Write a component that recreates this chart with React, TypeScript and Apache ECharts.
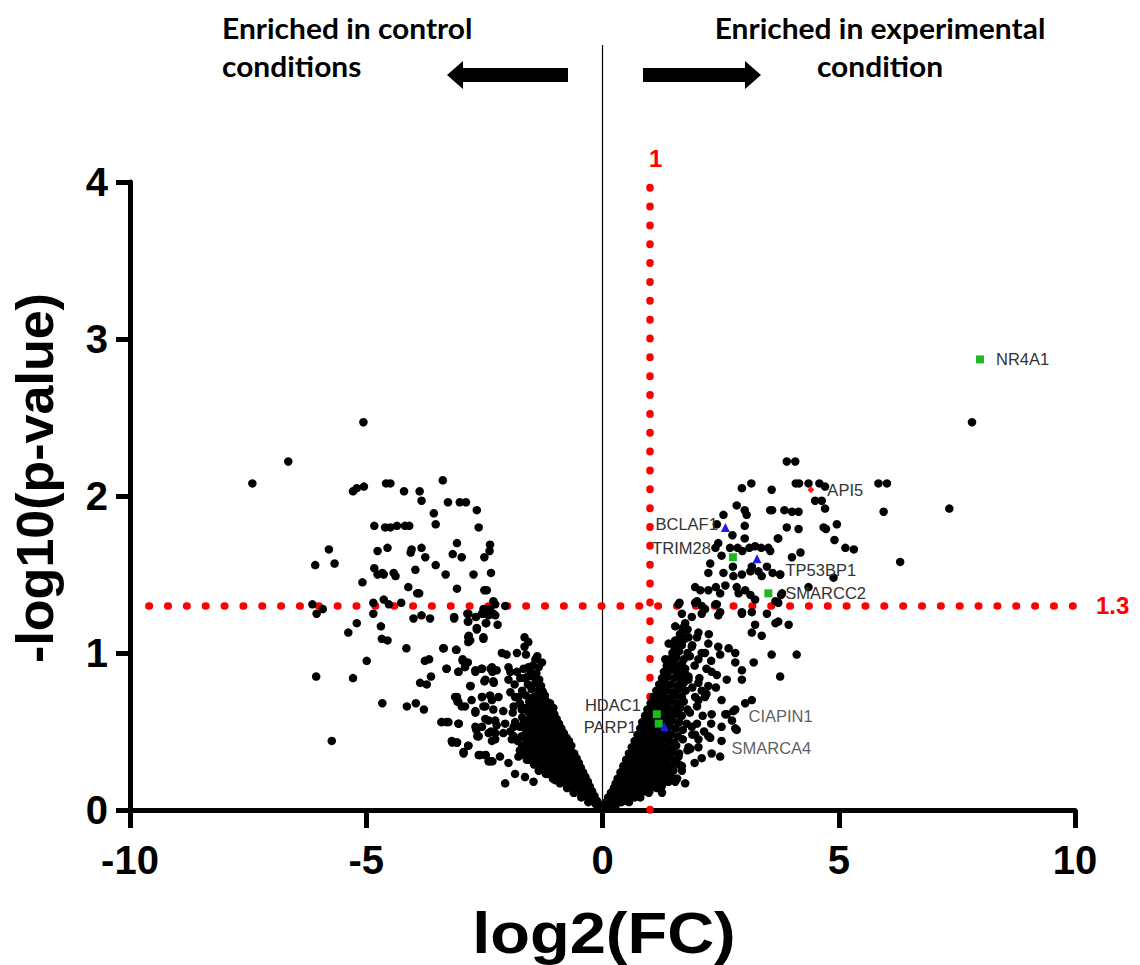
import { useEffect, useRef } from "react";
import * as echarts from "echarts";

// ---------- data (log2 fold change, -log10 p-value) ----------
const xAxisName = "log2(FC)";
const yAxisName = "-log10(p-value)";
const fcCutoff = 1;
const pCutoff = 1.3;
const pLineStart = -9.6;

const leftOuter: number[][] = [
  [-7.41, 2.08], [-6.65, 2.22], [-5.06, 2.47],
  [-4.58, 2.08], [-4.49, 2.08], [-5.28, 2.03], [-5.2, 2.05], [-5.05, 2.06],
  [-4.2, 2.03], [-3.87, 2.03], [-3.83, 1.97], [-3.38, 2.1], [-3.57, 1.89], [-3.27, 1.96],
  [-3.02, 1.96], [-2.89, 1.96], [-2.66, 1.91], [-2.62, 1.8],
  [-4.83, 1.81], [-4.6, 1.8], [-4.49, 1.8], [-4.35, 1.81], [-4.18, 1.81], [-4.09, 1.81], [-3.53, 1.82],
  [-5.79, 1.66], [-6.08, 1.56], [-5.67, 1.57], [-4.76, 1.65], [-4.55, 1.67], [-4.04, 1.66],
  [-4.06, 1.64], [-3.83, 1.67], [-3.75, 1.61], [-3.53, 1.56], [-3.08, 1.7], [-3.17, 1.63],
  [-2.98, 1.61], [-2.38, 1.69], [-2.39, 1.65], [-2.5, 1.61],
  [-4.83, 1.54], [-4.76, 1.5], [-4.66, 1.51], [-4.63, 1.5], [-4.42, 1.51], [-4.38, 1.49],
  [-3.96, 1.53], [-3.32, 1.5], [-2.73, 1.5], [-2.36, 1.51],
  [-5.08, 1.45], [-4.11, 1.42], [-3.92, 1.38], [-3.88, 1.38], [-3.08, 1.41], [-2.5, 1.4], [-2.45, 1.4],
  [-6.14, 1.31], [-4.85, 1.32], [-4.63, 1.34], [-4.52, 1.31], [-4.26, 1.32], [-2.52, 1.28], [-2.31, 1.33],
  [-6.05, 1.25], [-5.92, 1.28], [-4.85, 1.25], [-5.2, 1.19], [-5.38, 1.13], [-4.69, 1.17],
  [-4.67, 1.09], [-4.55, 1.08], [-4.0, 1.22], [-3.83, 1.24], [-3.65, 1.22], [-3.14, 1.22],
  [-2.86, 1.25], [-2.85, 1.2], [-2.68, 1.23], [-2.66, 1.16], [-2.52, 1.25], [-2.47, 1.19],
  [-2.27, 1.24], [-2.83, 1.11], [-2.84, 1.07], [-2.52, 1.1], [-4.15, 1.03], [-3.36, 1.03],
  [-3.09, 1.02], [-4.99, 0.95], [-3.76, 0.95], [-3.67, 0.96], [-2.96, 0.95], [-2.85, 0.94],
  [-2.91, 0.91], [-3.3, 0.9], [-3.05, 0.88], [-2.69, 0.88], [-2.56, 0.9], [-2.37, 0.9],
  [-2.33, 0.88], [-6.06, 0.85], [-5.28, 0.84], [-3.86, 0.81], [-3.72, 0.8], [-3.63, 0.85],
  [-2.5, 0.82], [-2.3, 0.81], [-2.79, 0.79], [-3.08, 0.72], [-3.07, 0.69], [-2.91, 0.66],
  [-2.55, 0.72], [-2.48, 0.66], [-2.34, 0.7], [-4.66, 0.68], [-4.14, 0.66], [-3.95, 0.68],
  [-3.78, 0.64], [-2.69, 0.62], [-2.48, 0.58], [-2.27, 0.57], [-3.41, 0.56], [-3.3, 0.56],
  [-3.04, 0.55], [-2.67, 0.51], [-2.55, 0.53], [-2.65, 0.47], [-2.36, 0.5], [-2.34, 0.44],
  [-2.27, 0.49], [-5.73, 0.44], [-3.18, 0.43], [-3.08, 0.43], [-2.84, 0.41], [-2.94, 0.36],
  [-2.59, 0.35], [-2.47, 0.35], [-2.41, 0.31], [-2.33, 0.31],
];

const leftInner: number[][] = [
  [-3.14, 1.23], [-2.84, 1.25], [-2.84, 1.2], [-2.68, 1.23], [-2.55, 1.25], [-2.48, 1.28],
  [-2.38, 1.28], [-2.41, 1.24], [-2.31, 1.25], [-2.66, 1.15], [-2.46, 1.19], [-2.22, 1.18],
  [-2.27, 1.31], [-2.06, 1.3], [-2.84, 1.1], [-2.8, 1.08], [-2.52, 1.09], [-3.37, 1.03],
  [-3.1, 1.02], [-1.65, 1.1], [-1.57, 1.07], [-1.65, 1.04], [-2.13, 1.0], [-2.03, 0.99],
  [-1.81, 1.0], [-1.62, 0.99], [-1.38, 0.98], [-2.96, 0.96], [-2.9, 0.94], [-3.3, 0.9],
  [-3.05, 0.88], [-2.69, 0.89], [-2.55, 0.9], [-2.34, 0.91], [-2.24, 0.89], [-1.99, 0.91],
  [-1.95, 0.88], [-1.81, 0.88], [-1.67, 0.9], [-1.57, 0.91], [-1.35, 0.91], [-1.28, 0.94],
  [-1.42, 0.96], [-2.48, 0.83], [-2.31, 0.82], [-1.99, 0.83], [-1.86, 0.8], [-1.74, 0.84],
  [-1.58, 0.85], [-2.8, 0.79], [-3.12, 0.72], [-3.05, 0.69], [-2.77, 0.7], [-2.55, 0.72],
  [-2.38, 0.73], [-2.2, 0.72], [-1.95, 0.75], [-1.78, 0.72], [-1.5, 0.71], [-1.28, 0.76],
  [-1.21, 0.7], [-2.98, 0.66], [-2.69, 0.63], [-2.52, 0.66], [-2.31, 0.64], [-2.1, 0.63],
  [-1.88, 0.66], [-1.71, 0.64], [-1.42, 0.64], [-1.21, 0.64], [-1.04, 0.65], [-3.4, 0.56],
  [-3.26, 0.56], [-3.05, 0.55], [-2.69, 0.53], [-2.41, 0.57], [-2.24, 0.54], [-2.06, 0.55],
  [-1.88, 0.53], [-1.67, 0.55], [-1.5, 0.56], [-1.32, 0.55], [-1.14, 0.57], [-1.0, 0.58],
  [-3.19, 0.44], [-3.08, 0.43], [-2.84, 0.41], [-2.62, 0.47], [-2.41, 0.49], [-2.27, 0.45],
  [-2.1, 0.49], [-1.92, 0.45], [-1.71, 0.47], [-1.53, 0.49], [-1.35, 0.47], [-1.18, 0.49],
  [-1.0, 0.48], [-0.83, 0.49], [-2.94, 0.37], [-2.62, 0.35], [-2.48, 0.35], [-2.38, 0.31],
  [-2.17, 0.34], [-1.99, 0.3], [-1.78, 0.34], [-1.6, 0.32], [-1.42, 0.34], [-1.21, 0.35],
  [-1.04, 0.34], [-0.86, 0.36], [-0.68, 0.37], [-2.06, 0.17], [-1.85, 0.23], [-1.64, 0.21],
  [-1.46, 0.18], [-1.35, 0.25], [-1.14, 0.23], [-1.0, 0.19], [-0.83, 0.23], [-0.72, 0.18],
  [-0.58, 0.25], [-0.51, 0.21], [-0.44, 0.15], [-0.61, 0.11], [-0.37, 0.11], [-0.26, 0.06],
  [-0.15, 0.04], [-0.08, 0.02],
];

const leftCore: number[][] = [
  [-0.1, 0.02], [-0.05, 0.01], [-0.3, 0.05], [-0.22, 0.06], [-0.15, 0.05], [-0.08, 0.04],
  [-0.45, 0.08], [-0.36, 0.09], [-0.28, 0.08], [-0.2, 0.07], [-0.12, 0.06],
  [-0.6, 0.11], [-0.5, 0.12], [-0.41, 0.11], [-0.33, 0.1], [-0.24, 0.11], [-0.17, 0.09],
  [-0.75, 0.14], [-0.66, 0.15], [-0.56, 0.13], [-0.47, 0.14], [-0.38, 0.15], [-0.3, 0.13], [-0.22, 0.12],
  [-0.9, 0.17], [-0.8, 0.18], [-0.7, 0.16], [-0.61, 0.17], [-0.52, 0.18], [-0.43, 0.17], [-0.35, 0.16], [-0.27, 0.15],
  [-1.05, 0.2], [-0.95, 0.21], [-0.85, 0.19], [-0.76, 0.2], [-0.66, 0.21], [-0.57, 0.2], [-0.48, 0.19], [-0.4, 0.2], [-0.31, 0.18],
  [-1.2, 0.23], [-1.1, 0.24], [-1.0, 0.22], [-0.91, 0.23], [-0.81, 0.24], [-0.72, 0.23], [-0.62, 0.22], [-0.53, 0.24], [-0.44, 0.23], [-0.36, 0.21],
  [-1.3, 0.26], [-1.2, 0.27], [-1.1, 0.26], [-1.0, 0.25], [-0.9, 0.27], [-0.8, 0.26], [-0.7, 0.27], [-0.6, 0.26], [-0.5, 0.25], [-0.41, 0.24],
  [-1.45, 0.29], [-1.33, 0.3], [-1.22, 0.29], [-1.12, 0.28], [-1.02, 0.3], [-0.92, 0.29], [-0.83, 0.3], [-0.73, 0.29], [-0.63, 0.28], [-0.54, 0.29], [-0.46, 0.27],
  [-1.55, 0.32], [-1.4, 0.33], [-1.28, 0.32], [-1.17, 0.31], [-1.07, 0.33], [-0.97, 0.32], [-0.87, 0.33], [-0.77, 0.32], [-0.67, 0.31], [-0.58, 0.32], [-0.5, 0.3],
  [-1.65, 0.35], [-1.5, 0.36], [-1.36, 0.35], [-1.25, 0.34], [-1.14, 0.36], [-1.03, 0.35], [-0.93, 0.36], [-0.82, 0.35], [-0.72, 0.34], [-0.62, 0.35], [-0.55, 0.33],
  [-1.75, 0.38], [-1.58, 0.39], [-1.44, 0.38], [-1.32, 0.37], [-1.2, 0.39], [-1.09, 0.38], [-0.98, 0.39], [-0.88, 0.38], [-0.78, 0.37], [-0.68, 0.38], [-0.6, 0.36],
  [-1.7, 0.41], [-1.55, 0.42], [-1.4, 0.41], [-1.27, 0.4], [-1.15, 0.42], [-1.04, 0.41], [-0.94, 0.42], [-0.84, 0.41], [-0.74, 0.4], [-0.66, 0.41],
  [-1.8, 0.44], [-1.62, 0.45], [-1.47, 0.44], [-1.33, 0.43], [-1.21, 0.45], [-1.1, 0.44], [-0.99, 0.45], [-0.89, 0.44], [-0.79, 0.43], [-0.71, 0.44],
  [-1.88, 0.47], [-1.55, 0.48], [-1.4, 0.47], [-1.27, 0.46], [-1.15, 0.48], [-1.05, 0.47], [-0.95, 0.48], [-0.85, 0.47], [-0.76, 0.46],
  [-1.95, 0.5], [-1.62, 0.51], [-1.47, 0.5], [-1.33, 0.49], [-1.21, 0.51], [-1.1, 0.5], [-1.0, 0.51], [-0.9, 0.5], [-0.82, 0.49],
  [-1.75, 0.53], [-1.55, 0.54], [-1.4, 0.53], [-1.27, 0.52], [-1.16, 0.54], [-1.05, 0.53], [-0.95, 0.54], [-0.87, 0.52],
  [-1.85, 0.56], [-1.62, 0.57], [-1.46, 0.56], [-1.33, 0.55], [-1.2, 0.57], [-1.1, 0.56], [-1.0, 0.57], [-0.92, 0.55],
  [-1.7, 0.59], [-1.52, 0.6], [-1.38, 0.59], [-1.25, 0.58], [-1.15, 0.6], [-1.05, 0.59], [-0.97, 0.58],
  [-1.9, 0.62], [-1.58, 0.63], [-1.44, 0.62], [-1.3, 0.61], [-1.19, 0.63], [-1.09, 0.62], [-1.02, 0.61],
  [-1.65, 0.65], [-1.5, 0.66], [-1.35, 0.65], [-1.24, 0.64], [-1.14, 0.66], [-1.07, 0.65],
  [-1.75, 0.68], [-1.55, 0.69], [-1.4, 0.68], [-1.28, 0.67], [-1.18, 0.69], [-1.11, 0.68],
  [-1.85, 0.72], [-1.62, 0.73], [-1.45, 0.72], [-1.32, 0.71], [-1.22, 0.73],
  [-1.7, 0.76], [-1.5, 0.77], [-1.36, 0.76], [-1.26, 0.75],
  [-1.58, 0.8], [-1.42, 0.81], [-1.3, 0.79], [-1.65, 0.84], [-1.47, 0.85], [-1.34, 0.83],
  [-1.52, 0.88], [-1.4, 0.87], [-1.48, 0.92],
];

const rightOuter: number[][] = [
  [3.9, 2.22], [4.08, 2.22], [3.15, 2.08], [2.95, 2.05], [3.58, 2.04],
  [2.84, 1.94], [3.01, 1.91], [3.05, 1.88], [3.55, 1.91], [3.59, 1.91], [3.85, 1.91], [2.56, 1.88],
  [3.01, 1.81], [2.75, 1.75], [3.01, 1.73], [3.71, 1.73], [3.9, 1.8], [2.42, 1.82],
  [2.45, 1.7], [2.39, 1.67], [2.7, 1.67], [2.86, 1.67], [2.96, 1.65], [3.11, 1.67], [3.23, 1.68],
  [3.36, 1.67], [3.51, 1.67], [3.55, 1.65], [4.01, 1.61], [2.28, 1.57], [2.24, 1.51], [2.52, 1.62],
  [2.56, 1.51], [2.76, 1.55], [2.77, 1.49], [2.95, 1.5], [3.16, 1.55], [3.13, 1.52], [3.48, 1.55],
  [3.6, 1.51], [3.76, 1.5], [3.3, 1.52], [3.37, 1.49],
  [1.96, 1.42], [2.07, 1.4], [2.24, 1.4], [2.4, 1.42], [2.6, 1.43], [2.49, 1.38], [2.84, 1.42],
  [2.88, 1.38], [3.02, 1.4], [3.13, 1.37], [3.23, 1.34], [3.8, 1.38], [3.66, 1.33],
  [1.63, 1.32], [1.68, 1.25], [2.0, 1.33], [2.1, 1.3], [2.39, 1.31], [2.49, 1.26], [2.95, 1.26], [3.16, 1.26],
  [4.09, 2.08], [4.16, 2.08], [4.36, 2.08], [4.59, 2.08], [4.71, 2.06], [5.84, 2.08], [6.02, 2.08],
  [4.5, 1.97], [4.64, 1.97], [4.01, 1.9], [4.15, 1.9], [4.71, 1.92], [5.95, 1.9], [7.34, 1.92],
  [4.15, 1.79], [4.68, 1.8], [4.73, 1.79], [4.96, 1.82], [3.72, 1.73], [4.91, 1.72], [5.14, 1.67],
  [5.32, 1.66], [4.19, 1.64], [6.3, 1.58], [3.76, 1.5], [4.89, 1.48], [4.36, 1.42], [3.78, 1.37],
  [3.72, 1.32], [3.72, 1.2], [3.94, 1.18], [7.82, 2.47],
  [1.61, 1.31], [1.96, 1.32], [2.17, 1.28], [2.42, 1.31], [2.95, 1.25], [3.48, 1.25], [3.23, 1.18],
  [3.66, 1.19], [3.16, 1.13], [3.37, 1.11], [1.54, 1.17], [1.75, 1.19], [1.89, 1.23], [2.1, 1.25],
  [2.45, 1.24], [1.4, 1.06], [1.54, 1.08], [1.68, 1.13], [1.82, 1.1], [2.03, 1.13], [1.89, 1.04],
  [2.24, 1.06], [2.45, 1.04], [2.67, 1.03], [2.81, 1.0], [2.49, 0.99], [2.17, 1.0], [3.2, 0.94],
  [3.58, 0.99], [4.11, 0.99], [2.81, 0.94], [2.95, 0.89], [3.76, 0.85], [1.33, 0.96], [1.47, 0.91],
  [1.68, 0.93], [1.82, 0.98], [2.03, 0.96], [2.31, 0.88], [2.42, 0.86], [2.63, 0.83], [2.95, 0.83],
  [1.33, 0.85], [1.61, 0.87], [1.82, 0.83], [2.03, 0.81], [2.1, 0.76], [2.24, 0.79], [1.96, 0.72],
  [2.17, 0.72], [2.03, 0.7], [2.52, 0.7], [3.02, 0.68], [3.16, 0.7], [2.81, 0.64], [2.6, 0.61],
  [2.31, 0.61], [2.52, 0.53], [2.81, 0.52], [1.89, 0.53], [2.03, 0.45], [2.24, 0.47], [2.52, 0.44],
  [1.82, 0.4], [2.31, 0.36], [2.49, 0.34], [1.61, 0.34], [1.68, 0.28], [1.54, 0.18], [1.75, 0.17],
  [1.33, 0.21], [0.8, 0.08], [2.63, 0.61], [2.77, 0.63], [2.74, 0.57], [2.84, 0.51], [2.28, 0.46],
  [1.96, 0.48], [1.86, 0.39], [2.03, 0.4], [2.1, 0.33], [1.68, 0.25], [1.26, 0.11],
];

const rightCore: number[][] = [
  [0.05, 0.02], [0.12, 0.03], [0.2, 0.02], [0.28, 0.03],
  [0.08, 0.05], [0.16, 0.06], [0.24, 0.05], [0.32, 0.06], [0.4, 0.05], [0.48, 0.06], [0.56, 0.05],
  [0.12, 0.08], [0.2, 0.09], [0.28, 0.08], [0.36, 0.07], [0.44, 0.09], [0.52, 0.08], [0.6, 0.09], [0.68, 0.08], [0.76, 0.09],
  [0.18, 0.11], [0.27, 0.12], [0.36, 0.11], [0.45, 0.1], [0.54, 0.12], [0.63, 0.11], [0.72, 0.12], [0.81, 0.11], [0.9, 0.12], [0.98, 0.11],
  [0.24, 0.14], [0.33, 0.15], [0.42, 0.14], [0.51, 0.13], [0.6, 0.15], [0.69, 0.14], [0.78, 0.15], [0.87, 0.14], [0.96, 0.13], [1.05, 0.15], [1.15, 0.14], [1.25, 0.15],
  [0.28, 0.17], [0.38, 0.18], [0.48, 0.17], [0.58, 0.16], [0.68, 0.18], [0.78, 0.17], [0.88, 0.18], [0.98, 0.17], [1.08, 0.16], [1.18, 0.18], [1.28, 0.17], [1.4, 0.18],
  [0.32, 0.2], [0.42, 0.21], [0.52, 0.2], [0.62, 0.19], [0.72, 0.21], [0.82, 0.2], [0.92, 0.21], [1.02, 0.2], [1.12, 0.19], [1.22, 0.21], [1.32, 0.2], [1.45, 0.21], [1.58, 0.2],
  [0.38, 0.24], [0.48, 0.25], [0.58, 0.24], [0.68, 0.23], [0.78, 0.25], [0.88, 0.24], [0.98, 0.25], [1.08, 0.24], [1.18, 0.23], [1.28, 0.25], [1.38, 0.24], [1.5, 0.25],
  [0.44, 0.28], [0.54, 0.29], [0.64, 0.28], [0.74, 0.27], [0.84, 0.29], [0.94, 0.28], [1.04, 0.29], [1.14, 0.28], [1.24, 0.27], [1.34, 0.29], [1.46, 0.28], [1.62, 0.29],
  [0.5, 0.32], [0.6, 0.33], [0.7, 0.32], [0.8, 0.31], [0.9, 0.33], [1.0, 0.32], [1.1, 0.33], [1.2, 0.32], [1.3, 0.31], [1.42, 0.33], [1.55, 0.32],
  [0.56, 0.36], [0.66, 0.37], [0.76, 0.36], [0.86, 0.35], [0.96, 0.37], [1.06, 0.36], [1.16, 0.37], [1.26, 0.36], [1.36, 0.35], [1.48, 0.37], [1.62, 0.36],
  [0.62, 0.4], [0.72, 0.41], [0.82, 0.4], [0.92, 0.39], [1.02, 0.41], [1.12, 0.4], [1.22, 0.41], [1.32, 0.4], [1.44, 0.39], [1.56, 0.41],
  [0.68, 0.44], [0.78, 0.45], [0.88, 0.44], [0.98, 0.43], [1.08, 0.45], [1.18, 0.44], [1.28, 0.45], [1.4, 0.44], [1.52, 0.43], [1.7, 0.45],
  [0.74, 0.48], [0.84, 0.49], [0.94, 0.48], [1.04, 0.47], [1.14, 0.49], [1.24, 0.48], [1.34, 0.49], [1.46, 0.48], [1.6, 0.47],
  [0.8, 0.52], [0.9, 0.53], [1.0, 0.52], [1.1, 0.51], [1.2, 0.53], [1.3, 0.52], [1.42, 0.53], [1.55, 0.52], [1.7, 0.51],
  [0.84, 0.56], [0.94, 0.57], [1.04, 0.56], [1.14, 0.55], [1.24, 0.57], [1.36, 0.56], [1.48, 0.57], [1.62, 0.56], [1.78, 0.55],
  [0.9, 0.6], [1.0, 0.61], [1.1, 0.6], [1.2, 0.59], [1.3, 0.61], [1.42, 0.6], [1.55, 0.61], [1.68, 0.6], [1.85, 0.62],
  [0.95, 0.64], [1.05, 0.65], [1.15, 0.64], [1.25, 0.63], [1.37, 0.65], [1.5, 0.64], [1.64, 0.65], [1.8, 0.64], [2.0, 0.66],
  [1.02, 0.68], [1.12, 0.69], [1.22, 0.68], [1.34, 0.67], [1.46, 0.69], [1.58, 0.68], [1.72, 0.69], [2.12, 0.6],
  [1.08, 0.72], [1.18, 0.73], [1.3, 0.72], [1.42, 0.71], [1.55, 0.73], [1.68, 0.72], [1.9, 0.78], [2.2, 0.74],
  [1.14, 0.76], [1.25, 0.77], [1.36, 0.76], [1.48, 0.75], [1.62, 0.77], [1.76, 0.76], [2.05, 0.84], [2.4, 0.78],
  [1.2, 0.8], [1.32, 0.81], [1.44, 0.8], [1.58, 0.79], [1.72, 0.81], [2.2, 0.9], [1.95, 0.92],
  [1.26, 0.84], [1.38, 0.85], [1.52, 0.84], [1.66, 0.83], [1.82, 0.85], [2.1, 1.0], [1.9, 1.05],
  [1.3, 0.88], [1.44, 0.89], [1.58, 0.88], [1.74, 0.87], [2.0, 1.1], [2.25, 1.12], [1.8, 1.15],
  [1.36, 0.92], [1.5, 0.93], [1.64, 0.92], [1.85, 0.98], [1.75, 0.9], [2.3, 0.95],
  [1.42, 0.96], [1.56, 0.97], [1.72, 0.96], [1.48, 1.0], [1.62, 1.01], [1.8, 1.0],
  [1.52, 1.04], [1.68, 1.05], [1.58, 1.08], [1.74, 1.09], [1.64, 1.12], [1.7, 1.16],
  [1.9, 0.48], [2.0, 0.55], [1.8, 0.38], [1.95, 0.3], [2.15, 0.5], [2.3, 0.55],
];

// highlighted proteins
const greenNames = ["NR4A1", "TRIM28", "SMARCC2", "HDAC1", "PARP1"];
const greenPoints = [[7.99, 2.87], [2.76, 1.61], [3.51, 1.38], [1.15, 0.61], [1.19, 0.55]];
const blueNames = ["BCLAF1", "TP53BP1", ""];
const bluePoints = [[2.6, 1.8], [3.27, 1.6], [1.31, 0.53]];
const redNames = ["API5"];
const redPoints = [[4.41, 2.04]];
const textOnlyNames = ["CIAPIN1", "SMARCA4"];
const textOnlyPoints = [[3.09, 0.6], [2.73, 0.395]];

// label placement styles
const labelPlacement: Record<string, { position: string; distance: number; offset: number[] }> = {
  NR4A1: { position: "right", distance: 12, offset: [0, 0] },
  API5: { position: "right", distance: 13, offset: [0, 0] },
  BCLAF1: { position: "left", distance: 3, offset: [0, -3] },
  TRIM28: { position: "left", distance: 18, offset: [0, -9] },
  TP53BP1: { position: "right", distance: 24, offset: [0, 11] },
  SMARCC2: { position: "right", distance: 13, offset: [0, 0] },
  HDAC1: { position: "left", distance: 12, offset: [0, -9] },
  PARP1: { position: "left", distance: 18, offset: [0, 3] },
  CIAPIN1: { position: "right", distance: 0, offset: [0, 0] },
  SMARCA4: { position: "right", distance: 0, offset: [0, 0] },
};

const ARIAL = "'Liberation Sans', Arial, Helvetica, sans-serif";
const LABEL_COLOR = "#333333";

function makeItems(names: string[], pts: number[][]) {
  return pts.map((p, i) => {
    const n = names[i];
    const lp = labelPlacement[n];
    return {
      value: p,
      name: n,
      label: lp
        ? { show: true, position: lp.position, distance: lp.distance, offset: lp.offset, formatter: n }
        : { show: false },
    };
  });
}

export default function App() {
  const ref = useRef<HTMLDivElement>(null);

  useEffect(() => {
    if (!ref.current) return;
    const chart = echarts.init(ref.current, undefined, { renderer: "svg" });
    const labelBase = { color: LABEL_COLOR, fontSize: 16.5, fontFamily: ARIAL };
    const redLabel = { color: "#ff0000", fontWeight: "bold", fontSize: 24, fontFamily: ARIAL };

    chart.setOption({
      animation: false,
      backgroundColor: "#ffffff",
      grid: { left: 130, right: 65, top: 182, bottom: 155, containLabel: false },
      xAxis: {
        type: "value",
        min: -10,
        max: 10,
        interval: 5,
        axisLine: { show: true, onZero: false, lineStyle: { color: "#000", width: 5 } },
        axisTick: { show: true, length: 18, lineStyle: { color: "#000", width: 5 } },
        axisLabel: { color: "#000", fontSize: 40, fontWeight: "bold", fontFamily: ARIAL, margin: 30 },
        splitLine: { show: false },
      },
      yAxis: {
        type: "value",
        min: 0,
        max: 4,
        interval: 1,
        axisLine: { show: true, onZero: false, lineStyle: { color: "#000", width: 5 } },
        axisTick: { show: true, length: 14, lineStyle: { color: "#000", width: 5 } },
        axisLabel: { color: "#000", fontSize: 40, fontWeight: "bold", fontFamily: ARIAL, margin: 22 },
        splitLine: { show: false },
      },
      series: [
        {
          type: "scatter",
          name: "guides",
          data: [],
          z: 1,
          silent: true,
          markLine: {
            silent: true,
            z: 1,
            symbol: ["none", "none"],
            lineStyle: { color: "#ff0000", width: 7.5, type: [0.5, 18.35], cap: "round", opacity: 1 },
            data: [
              [
                { coord: [fcCutoff, 0], name: String(fcCutoff), label: { show: true, position: "end", distance: 12, offset: [6, 0], formatter: "{b}", ...redLabel } },
                { coord: [fcCutoff, 4] },
              ],
              [
                { coord: [pLineStart, pCutoff], name: String(pCutoff), label: { show: true, position: "end", distance: 21, formatter: "{b}", ...redLabel } },
                { coord: [10, pCutoff] },
              ],
            ],
          },
        },
        {
          type: "scatter",
          name: "proteins",
          data: [...leftOuter, ...leftInner, ...leftCore, ...rightOuter, ...rightCore],
          symbol: "circle",
          symbolSize: 8.5,
          itemStyle: { color: "#000", opacity: 1 },
          z: 3,
          silent: true,
        },
        {
          type: "scatter",
          name: "green",
          data: makeItems(greenNames, greenPoints),
          symbol: "rect",
          symbolSize: 8,
          itemStyle: { color: "#1fb81f", opacity: 1 },
          label: labelBase,
          z: 5,
        },
        {
          type: "scatter",
          name: "blue",
          data: makeItems(blueNames, bluePoints),
          symbol: "triangle",
          symbolSize: 9,
          itemStyle: { color: "#1c1ce6", opacity: 1 },
          label: labelBase,
          z: 5,
        },
        {
          type: "scatter",
          name: "red",
          data: makeItems(redNames, redPoints),
          symbol: "diamond",
          symbolSize: 7,
          itemStyle: { color: "#ff2020", opacity: 1 },
          label: labelBase,
          z: 5,
        },
        {
          type: "scatter",
          name: "textOnly",
          data: makeItems(textOnlyNames, textOnlyPoints),
          symbolSize: 0,
          itemStyle: { color: "transparent" },
          label: labelBase,
          z: 5,
        },
      ],
    });

    const origin = chart.convertToPixel({ gridIndex: 0 }, [0, 0]) as number[];
    const headFont = "bold 28px Lato, 'Liberation Sans', sans-serif";
    chart.setOption({
      graphic: [
        {
          type: "line",
          z: 0,
          shape: { x1: origin[0], y1: 45, x2: origin[0], y2: origin[1] },
          style: { stroke: "#000", lineWidth: 1.2 },
        },
        {
          type: "polygon",
          shape: { points: [[447, 75], [463, 61], [463, 68], [568, 68], [568, 82], [463, 82], [463, 89]] },
          style: { fill: "#000" },
        },
        {
          type: "polygon",
          shape: { points: [[643, 68], [745, 68], [745, 61], [761, 75], [745, 89], [745, 82], [643, 82]] },
          style: { fill: "#000" },
        },
        { type: "text", x: 222, y: 28, scaleX: 1.07, style: { text: "Enriched in control", font: headFont, fill: "#000", align: "left", verticalAlign: "middle" } },
        { type: "text", x: 222, y: 66, scaleX: 1.07, style: { text: "conditions", font: headFont, fill: "#000", align: "left", verticalAlign: "middle" } },
        { type: "text", x: 880, y: 28, scaleX: 1.07, style: { text: "Enriched in experimental", font: headFont, fill: "#000", align: "center", verticalAlign: "middle" } },
        { type: "text", x: 880, y: 66, scaleX: 1.07, style: { text: "condition", font: headFont, fill: "#000", align: "center", verticalAlign: "middle" } },
        {
          type: "text",
          x: 35,
          y: 478,
          rotation: Math.PI / 2,
          style: { text: yAxisName, font: `bold 52px ${ARIAL}`, fill: "#000", align: "center", verticalAlign: "middle" },
        },
        {
          type: "text",
          x: 604,
          y: 933,
          scaleX: 1.14,
          style: { text: xAxisName, font: `bold 57px ${ARIAL}`, fill: "#000", align: "center", verticalAlign: "middle" },
        },
      ],
    });

    return () => chart.dispose();
  }, []);

  return <div ref={ref} style={{ position: "absolute", left: 0, top: 0, width: 1140, height: 965 }} />;
}
